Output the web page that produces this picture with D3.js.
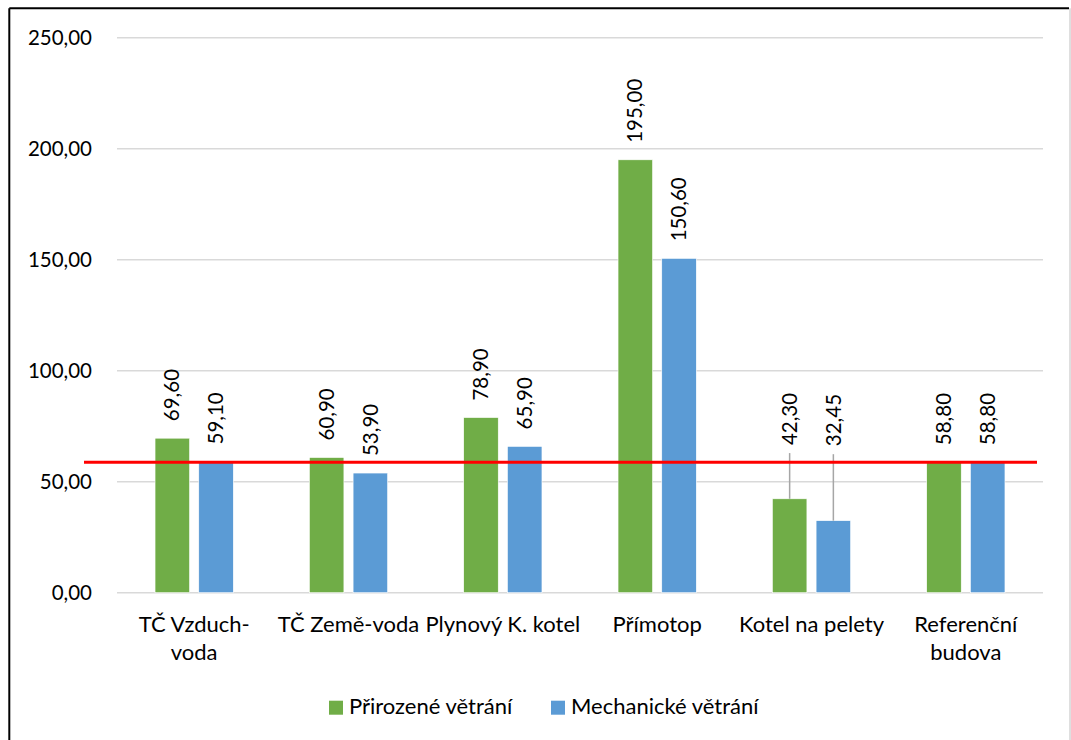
<!DOCTYPE html>
<html>
<head>
<meta charset="utf-8">
<script src="https://cdn.jsdelivr.net/npm/d3@7"></script>
<style>
  body { margin: 0; background: #fff; }
  svg { width: 1071px; height: 740px; display: block; font-family: Lato, "Open Sans", sans-serif; }
</style>
</head>
<body>
<svg></svg>
<script>
// ---- Dados
const categories = ['TČ Vzduch-voda', 'TČ Země-voda', 'Plynový K. kotel', 'Přímotop', 'Kotel na pelety', 'Referenční budova'];
const tickLines = [['TČ Vzduch-', 'voda'], ['TČ Země-voda'], ['Plynový K. kotel'], ['Přímotop'], ['Kotel na pelety'], ['Referenční', 'budova']];
const series = ['Přirozené větrání', 'Mechanické větrání'];
const prirozene = [69.60, 60.90, 78.90, 195.00, 42.30, 58.80];
const mechanicke = [59.10, 53.90, 65.90, 150.60, 32.45, 58.80];
// labels moved up with leader lines (value where the label starts), null = default
const labelAtPrir = [null, null, null, null, 66.5, null];
const labelAtMech = [null, null, null, null, 66.0, null];
const yTicks = [0, 50, 100, 150, 200, 250];
const referenceValue = 58.8;
const colors = ['#70AD47', '#5B9BD5'];

const margens = { left: 117, right: 28, top: 37.7, bottom: 147.3 };
const numSize = '20.5px';
const textSize = '22px';

const svg = d3.select('svg');
const W = 1071, H = 740;
const plotW = W - margens.left - margens.right;
const plotH = H - margens.top - margens.bottom;

const fmt = v => v.toFixed(2).replace('.', ',');

// ---- Escalas
const mapX = d3.scaleBand().domain(categories).range([0, plotW]).padding(0);
const mapSeries = d3.scaleBand().domain(series).range([0, mapX.bandwidth()])
    .paddingInner(0.21).paddingOuter(0.87);
const mapY = d3.scaleLinear().domain([0, 250]).range([plotH, 0]);

// ---- Moldura
svg.append('line').attr('x1', 9.3).attr('x2', 1069).attr('y1', 8.3).attr('y2', 8.3)
    .attr('stroke', '#000').attr('stroke-width', 2);
svg.append('line').attr('x1', 9.3).attr('x2', 9.3).attr('y1', 8.3).attr('y2', H + 2)
    .attr('stroke', '#000').attr('stroke-width', 2);
svg.append('line').attr('x1', 1070).attr('x2', 1070).attr('y1', 8.3).attr('y2', H + 2)
    .attr('stroke', '#BFBFBF').attr('stroke-width', 1);

const group = svg.append('g').attr('transform', `translate(${margens.left}, ${margens.top})`);

// ---- Grade
group.append('g').selectAll('line').data(yTicks).join('line')
    .attr('x1', 0).attr('x2', plotW)
    .attr('y1', d => mapY(d)).attr('y2', d => mapY(d))
    .attr('stroke', '#D9D9D9').attr('stroke-width', 1.5);

// ---- Eixo Y
const yAxis = d3.axisLeft(mapY).tickValues(yTicks).tickFormat(fmt).tickSize(0).tickPadding(25);
group.append('g').call(yAxis)
    .call(g => g.select('.domain').remove())
    .selectAll('text')
    .style('font-size', numSize).style('font-family', 'Lato, sans-serif').attr('fill', '#000');

// ---- Barras
const rows = categories.map((c, i) => ({
    cat: c,
    values: [
        { s: series[0], v: prirozene[i], at: labelAtPrir[i], color: colors[0] },
        { s: series[1], v: mechanicke[i], at: labelAtMech[i], color: colors[1] }
    ]
}));

const cGroup = group.selectAll('.cat').data(rows).join('g')
    .attr('class', 'cat')
    .attr('transform', d => `translate(${mapX(d.cat)}, 0)`);

cGroup.selectAll('rect').data(d => d.values).join('rect')
    .attr('x', d => mapSeries(d.s))
    .attr('y', d => mapY(d.v))
    .attr('width', mapSeries.bandwidth())
    .attr('height', d => plotH - mapY(d.v))
    .attr('fill', d => d.color)
    .attr('stroke', '#fff').attr('stroke-width', 0.6);

// ---- Linhas guia
cGroup.selectAll('.leader').data(d => d.values.filter(v => v.at !== null)).join('line')
    .attr('class', 'leader')
    .attr('x1', d => mapSeries(d.s) + mapSeries.bandwidth() / 2)
    .attr('x2', d => mapSeries(d.s) + mapSeries.bandwidth() / 2)
    .attr('y1', d => mapY(d.at) + 8)
    .attr('y2', d => mapY(d.v))
    .attr('stroke', '#A6A6A6').attr('stroke-width', 1.5);

// ---- Linha de referência
group.append('line')
    .attr('x1', -33).attr('x2', plotW - 6)
    .attr('y1', mapY(referenceValue)).attr('y2', mapY(referenceValue))
    .attr('stroke', '#FF0000').attr('stroke-width', 3);

// ---- Rótulos
cGroup.selectAll('.lbl').data(d => d.values).join('text')
    .attr('class', 'lbl')
    .attr('transform', d => {
        const x = mapSeries(d.s) + mapSeries.bandwidth() / 2;
        const y = d.at !== null ? mapY(d.at) : mapY(d.v) - 17;
        return `translate(${x}, ${y}) rotate(-90)`;
    })
    .attr('dy', '0.35em')
    .style('text-anchor', 'start')
    .style('font-size', numSize)
    .attr('fill', '#000')
    .text(d => fmt(d.v));

// ---- Eixo X
const xLabels = group.append('g').selectAll('text').data(categories).join('text')
    .attr('x', d => mapX(d) + mapX.bandwidth() / 2)
    .attr('y', plotH + 39)
    .style('text-anchor', 'middle')
    .style('font-size', textSize)
    .attr('fill', '#000');
xLabels.selectAll('tspan').data((d, i) => tickLines[i]).join('tspan')
    .attr('x', function () { return d3.select(this.parentNode).attr('x'); })
    .attr('dy', (d, i) => i === 0 ? 0 : 28)
    .text(d => d);

// ---- Legenda
const legend = svg.append('g').attr('transform', 'translate(329, 700.7)');
const legendX = [0, 222];
const items = legend.selectAll('g').data(series).join('g')
    .attr('transform', (d, i) => `translate(${legendX[i]}, 0)`);
items.append('rect').attr('width', 14).attr('height', 14).attr('fill', (d, i) => colors[i]);
items.append('text').attr('x', 20).attr('y', 13)
    .style('font-size', textSize).attr('fill', '#000').text(d => d);
</script>
</body>
</html>
